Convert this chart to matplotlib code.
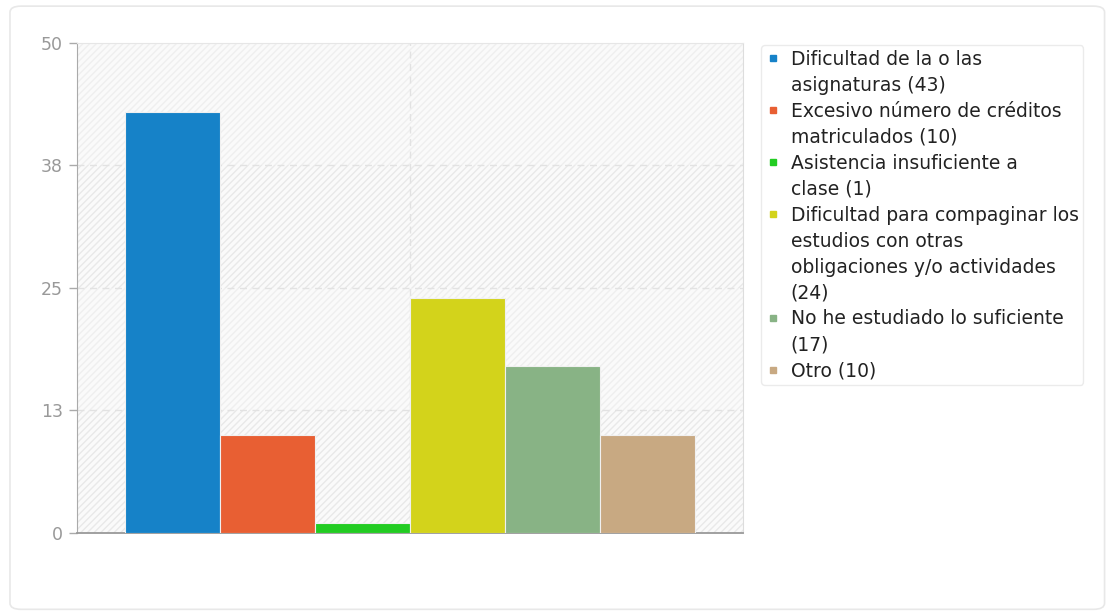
import numpy as np
import matplotlib
matplotlib.use("Agg")
import matplotlib.pyplot as plt
from matplotlib.lines import Line2D
from matplotlib.patches import FancyBboxPatch, Rectangle

# ---- data ----
labels = ["Dificultad de la o las\nasignaturas (43)",
          "Excesivo número de créditos\nmatriculados (10)",
          "Asistencia insuficiente a\nclase (1)",
          "Dificultad para compaginar los\nestudios con otras\nobligaciones y/o actividades\n(24)",
          "No he estudiado lo suficiente\n(17)",
          "Otro (10)"]
values = [43, 10, 1, 24, 17, 10]
colors = ["#1682c8", "#e85f33", "#22cc22", "#d3d31b", "#88b385", "#c8a982"]
yticks = [0, 12.5, 25, 37.5, 50]
ytick_labels = ["0", "13", "25", "38", "50"]

plt.rcParams['font.family'] = ['DejaVu Sans']

fig = plt.figure(figsize=(11.09, 6.13), dpi=100)
# outer rounded frame
fig.patches.append(FancyBboxPatch((0.009, 0.006), 0.987, 0.984,
                                  boxstyle="round,pad=0,rounding_size=0.01",
                                  transform=fig.transFigure, fc="white",
                                  ec="#e8e8e8", lw=1.2, zorder=-5))

ax = fig.add_axes([0.0694, 0.1305, 0.6005, 0.7994])
ax.set_facecolor("#fafafa")

# subtle hatched bands
for i, (lo, hi) in enumerate(zip(yticks[:-1], yticks[1:])):
    ax.add_patch(Rectangle((-1, lo), 7, hi - lo, fc="none",
                           ec="#efefef" if i % 2 else "#e9e9e9",
                           hatch="/////", lw=0, zorder=0))

x = np.arange(len(values))
ax.bar(x, values, width=1.0, color=colors, edgecolor="#f0f0f0", lw=0.8, zorder=3)

ax.set_xlim(-1, 6)
ax.set_ylim(0, 50)
ax.set_yticks(yticks)
ax.set_yticklabels(ytick_labels)
ax.set_xticks([])
for yv in yticks[1:-1]:
    ax.axhline(yv, color="#e2e2e2", ls=(0, (5, 4)), lw=1, zorder=1)
ax.axvline(2.5, color="#e2e2e2", ls=(0, (5, 4)), lw=1, zorder=1)

ax.tick_params(axis="y", length=6, width=1, color="#aaaaaa",
               labelcolor="#999999", labelsize=12.5, pad=4)
ax.spines["left"].set_color("#aaaaaa")
ax.spines["bottom"].set_color("#999999")
ax.spines["bottom"].set_linewidth(1.3)
ax.spines["top"].set_color("#e6e6e6")
ax.spines["right"].set_color("#dddddd")

# one legend row per text line, marker only on the first line of each label
handles, rows = [], []
for lab, c in zip(labels, colors):
    for j, line in enumerate(lab.split("\n")):
        handles.append(Line2D([], [], marker="s", ls="none", markersize=5,
                              markerfacecolor=c, markeredgecolor=c,
                              alpha=1 if j == 0 else 0))
        rows.append(line)
leg = fig.legend(handles, rows, loc="upper left",
                 bbox_to_anchor=(0.686, 0.926), fontsize=13.5,
                 handlelength=0.85, handletextpad=0.5, labelspacing=0.37,
                 borderpad=0.25, frameon=True, fancybox=True, shadow=False,
                 edgecolor="#e6e6e6", borderaxespad=0)
for t in leg.get_texts():
    t.set_color("#222222")

fig.savefig("out.png", dpi=100)
